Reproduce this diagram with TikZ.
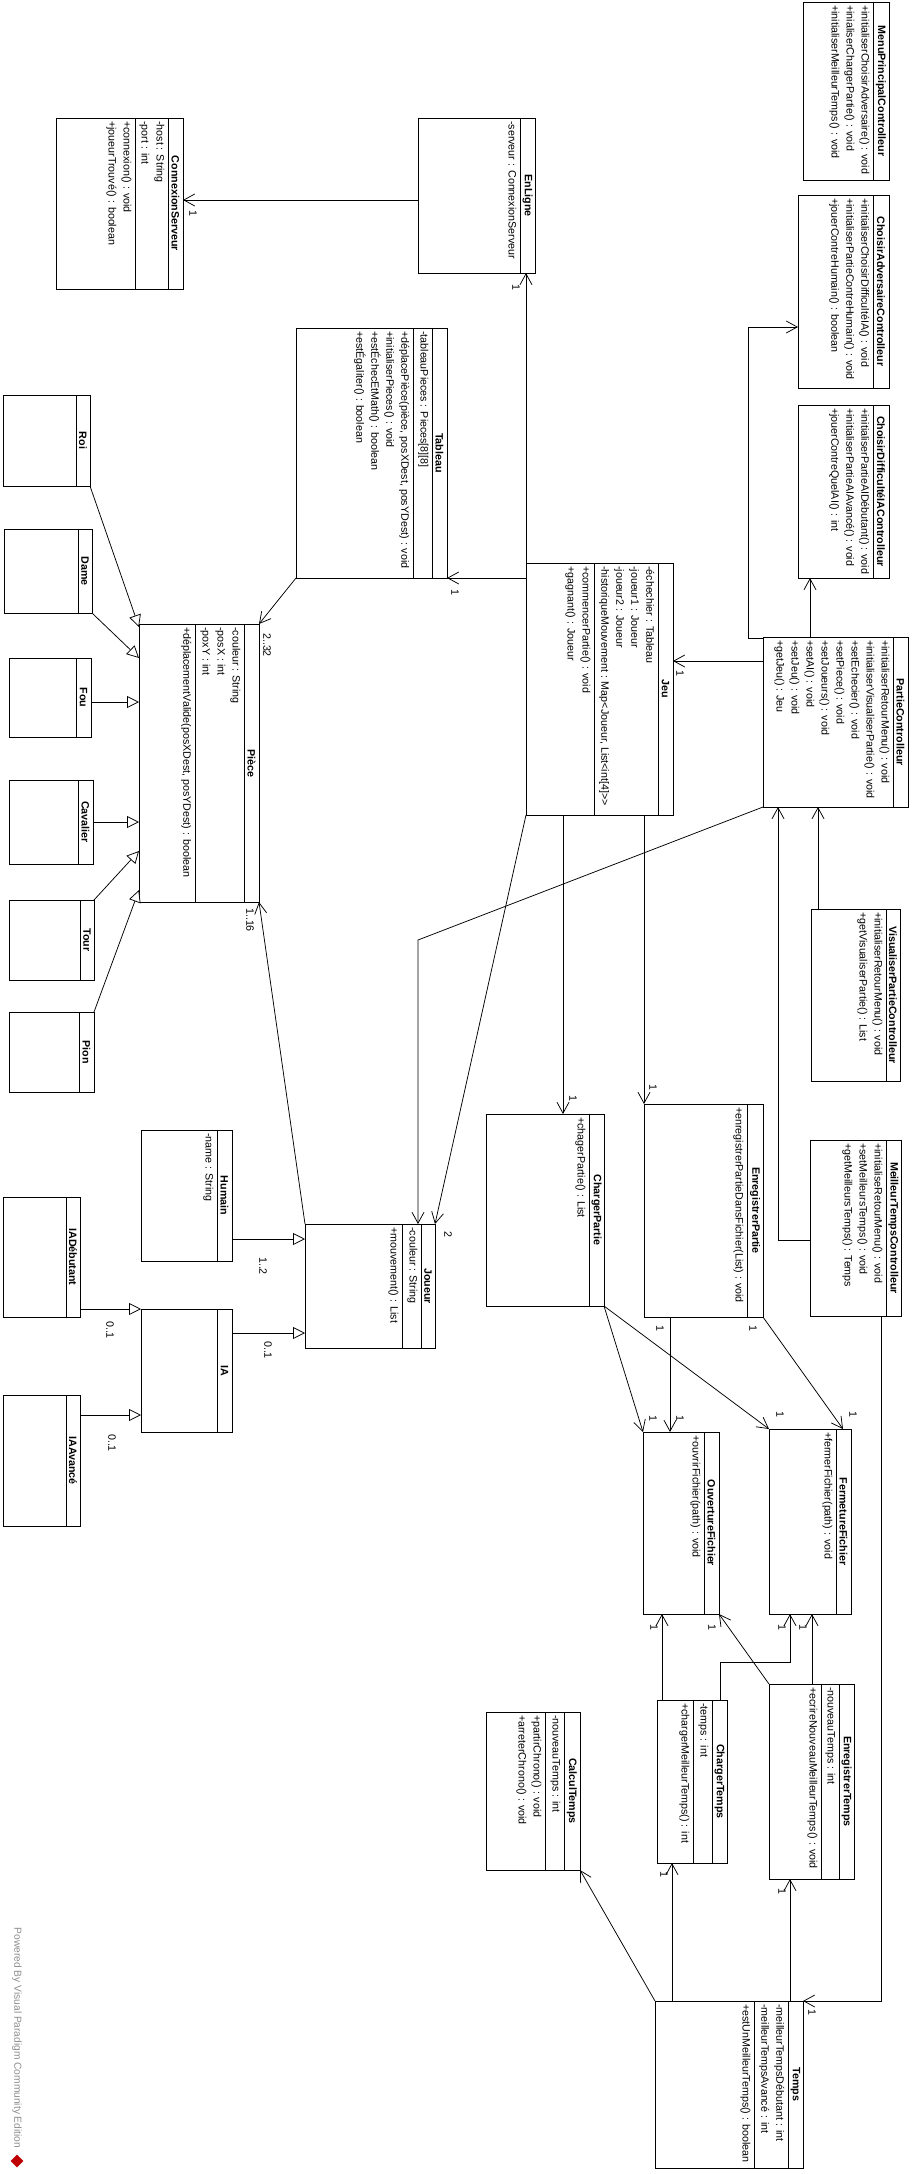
\documentclass[tikz,border=0pt]{standalone}
\usepackage{fontspec}
\newfontfamily\vpfont{Liberation Sans}
\usetikzlibrary{arrows.meta, calc, fit}

% class box: name, corner, corner, header line x, attribute line x, title, attributes, operations
\newcommand\umlclass[8]{%
  \node[cls, fit={(#2) (#3)}] (#1) {};
  \coordinate (#1-h) at (#4,0);
  \coordinate (#1-a) at (#5,0);
  \draw[compart] (#1.north -| #1-h) -- (#1.south -| #1-h);
  \draw[compart] (#1.north -| #1-a) -- (#1.south -| #1-a);
  \node[clsname] (#1-t) at ($(#1.east)!.5!(#1.east -| #1-h)$) {#6};
  \node[member] (#1-m1) at (#1.north -| #1-h) {#7};
  \node[member] (#1-m2) at (#1.north -| #1-a) {#8};
}

\begin{document}
\begin{tikzpicture}[
    x = 1pt, y = -1pt,
cls/.style = {draw, line width=1pt, inner sep=0pt, outer sep=0pt},
compart/.style = {line width=1pt},
clsname/.style = {rotate=-90, inner sep=0pt, font=\vpfont\bfseries\fontsize{10.7}{15}\selectfont},
member/.style = {rotate=-90, anchor=north west, align=left, inner xsep=3pt, inner ysep=3.5pt,
                 font=\vpfont\fontsize{10.7}{15}\selectfont},
mult/.style = {rotate=-90, inner sep=0pt, font=\vpfont\fontsize{10.7}{13}\selectfont},
assoc/.style = {line width=.75pt, -{Straight Barb[length=11pt, width=12pt]}},
gen/.style = {line width=.75pt, -{Triangle[open, length=12pt, width=12pt, fill=white]}},
credit/.style = {rotate=-90, inner sep=0pt, text=black!45, font=\vpfont\fontsize{10.2}{12}\selectfont},
vplogo/.style = {fill=red!75!black, rotate=45, minimum size=9pt, inner sep=0pt},
                    ]
\useasboundingbox (0,0) rectangle (911,2174);
%
\umlclass{menu}{803,2}{889,180}{873}{873}{MenuPrincipalControlleur}{}{+initialiserChoisirAdversaire() : void\\+inialiserChargerPartie() : void\\+initialiserMeilleurTemps() : void}
\umlclass{choixAdv}{798,195}{889,388}{873}{873}{ChoisirAdversaireControlleur}{}{+initialiserChoisirDifficultéIA() : void\\+initialiserPartieContreHumain() : void\\+jouerContreHumain() : boolean}
\umlclass{choixDiff}{798,405}{889,578}{873}{873}{ChoisirDifficultéIAControlleur}{}{+initialiserPartieAIDébutant() : void\\+initialiserPartieAIAvancé() : void\\+jouerContreQuelAI() : int}
\umlclass{partieCtrl}{763,637}{908,807}{893}{893}{PartieControlleur}{}{+initialiserRetourMenu() : void\\+initialiserVisualiserPartie() : void\\+setEchecier() : void\\+setPiece() : void\\+setJoueurs() : void\\+setAI() : void\\+setJeu() : void\\+getJeu() : Jeu}
\umlclass{visuCtrl}{811,909}{900,1081}{886}{886}{VisualiserPartieControlleur}{}{+initialiserRetourMenu() : void\\+getVisualiserPartie() : List}
\umlclass{meilleurCtrl}{810,1140}{901,1316}{886}{886}{MeilleurTempsControlleur}{}{+initialiseRetourMenu() : void\\+setMeilleursTemps() : void\\+getMeilleursTemps() : Temps}
%
\umlclass{jeu}{526,563}{673,815}{658}{594}{Jeu}{-échechier : Tableau\\-joueur1 : Joueur\\-joueur2 : Joueur\\-historiqueMouvement : Map<Joueur, List<int[4]>>}{+commencerPartie() : void\\+gagnant() : Joueur}
\umlclass{tableau}{296,328}{447,578}{432}{413}{Tableau}{-tableauPieces : Pieces[8][8]}{+déplacePièce(pièce, posXDest, posYDest) : void\\+initialiserPieces() : void\\+estÉchecEtMath() : boolean\\+estÉgaliter() : boolean}
\umlclass{enLigne}{418,118}{535,273}{520}{520}{EnLigne}{-serveur : ConnexionServeur}{}
\umlclass{connexion}{56,118}{183,289}{168}{135}{ConnexionServeur}{-host : String\\-port : int}{+connexion() : void\\+joueurTrouvé() : boolean}
\umlclass{piece}{139,624}{259,902}{244}{195}{Pièce}{-couleur : String\\-posX : int\\-poxY : int}{+déplacementValide(posXDest, posYDest) : boolean}
\umlclass{roi}{3,395}{90,486}{76}{76}{Roi}{}{}
\umlclass{dame}{4,529}{92,613}{78}{78}{Dame}{}{}
\umlclass{fou}{9,658}{91,737}{76}{76}{Fou}{}{}
\umlclass{cavalier}{9,780}{93,864}{78}{78}{Cavalier}{}{}
\umlclass{tour}{9,900}{94,980}{80}{80}{Tour}{}{}
\umlclass{pion}{9,1012}{94,1092}{79}{79}{Pion}{}{}
\umlclass{humain}{141,1130}{232,1261}{217}{217}{Humain}{-name : String}{}
\umlclass{joueur}{305,1224}{435,1348}{421}{402}{Joueur}{-couleur : String}{+mouvement() : List}
\umlclass{ia}{141,1309}{232,1432}{217}{217}{IA}{}{}
\umlclass{iaDeb}{3,1197}{80,1317}{66}{66}{IADébutant}{}{}
\umlclass{iaAv}{3,1395}{80,1526}{66}{66}{IAAvancé}{}{}
%
\umlclass{chargerPartie}{486,1114}{604,1306}{589}{589}{ChargerPartie}{}{+chagerPartie() : List}
\umlclass{enregPartie}{644,1104}{763,1317}{747}{747}{EnregistrerPartie}{}{+enregistrerPartieDansFichier(List) : void}
\umlclass{ouverture}{643,1432}{719,1614}{704}{704}{OuvertureFichier}{}{+ouvrirFichier(path) : void}
\umlclass{fermeture}{769,1429}{851,1614}{836}{836}{FermetureFichier}{}{+fermerFichier(path) : void}
\umlclass{chargerTemps}{657,1700}{727,1863}{712}{693}{ChargerTemps}{-temps : int}{+chargerMeilleurTemps() : int}
\umlclass{enregTemps}{769,1684}{854,1879}{839}{821}{EnregistrerTemps}{-nouveauTemps : int}{+ecrireNouveauMeilleurTemps() : void}
\umlclass{calculTemps}{486,1712}{580,1870}{564}{545}{CalculTemps}{-nouveauTemps : int}{+partirChrono() : void\\+arreterChrono() : void}
\umlclass{temps}{655,2001}{803,2168}{788}{754}{Temps}{-meilleurTempsDébutant : int\\-meilleurTempsAvancé : int}{+estUnMeilleurTemps() : boolean}
%
\path[assoc] ([shift={(0,4.5)}]enLigne.west) edge ([shift={(0,-3.5)}]connexion.east)
             (jeu.north west)                 edge ([shift={(108,0)}]enLigne.south west)
             ([shift={(0,24)}]partieCtrl.north west) edge ([shift={(0,98)}]jeu.north east)
             ([shift={(47,0)}]partieCtrl.north west) edge ([shift={(12,0)}]choixDiff.south west)
             ([shift={(7,0)}]visuCtrl.north west)    edge ([shift={(55,0)}]partieCtrl.south west)
             (jeu.south west)                 edge (joueur.north east)
             ([shift={(0,15)}]jeu.north west) edge (tableau.south east)
             ([shift={(37,0)}]jeu.south west) edge ([shift={(77,0)}]chargerPartie.north west)
             ([shift={(118,0)}]jeu.south west) edge (enregPartie.north west)
             (tableau.south west)             edge (piece.north east)
             (joueur.north west)              edge (piece.south east)
%
             (chargerPartie.south east)       edge (ouverture.north west)
             ([shift={(26,0)}]enregPartie.south west) edge ([shift={(27,0)}]ouverture.north west)
             (chargerPartie.south east)       edge (fermeture.north west)
             (enregPartie.south east)         edge ([shift={(-8,0)}]fermeture.north east)
             ([shift={(5,0)}]chargerTemps.north west) edge ([shift={(19,0)}]ouverture.south west)
             (enregTemps.north west)          edge (ouverture.south east)
             ([shift={(43,0)}]enregTemps.north west) edge ([shift={(43,0)}]fermeture.south west)
             (temps.north west)               edge (calculTemps.south east)
             ([shift={(17,0)}]temps.north west) edge ([shift={(15,0)}]chargerTemps.south west)
             ([shift={(135,0)}]temps.north west) edge ([shift={(21,0)}]enregTemps.south west);
%
\draw[assoc] ([shift={(0,1)}]partieCtrl.north west) -- ([shift={(-15,1)}]partieCtrl.north west)
             |- ([shift={(0,35.5)}]choixAdv.west);
\draw[assoc] ([shift={(0,12)}]meilleurCtrl.west) -| ([shift={(15,0)}]partieCtrl.south west);
\draw[assoc] (partieCtrl.south west) -- ([shift={(-17,-284)}]joueur.north east)
             -- ([shift={(-17,0)}]joueur.north east);
\draw[assoc] ([shift={(63,0)}]chargerTemps.north west) -- ([shift={(63,-38)}]chargerTemps.north west)
             -| ([shift={(21,0)}]fermeture.south west);
\draw[assoc] ([shift={(71,0)}]meilleurCtrl.south west) |- (temps.north east);
%
\path[gen] (roi.south east)   edge ([shift={(0,3)}]piece.north west)
           (dame.south east)  edge ([shift={(0,34)}]piece.north west)
           ([shift={(0,4.5)}]fou.east) edge ([shift={(0,78)}]piece.north west)
           (cavalier.east)    edge ([shift={(0,198)}]piece.north west)
           (tour.north east)  edge ([shift={(0,227)}]piece.north west)
           (pion.north east)  edge ([shift={(0,-12)}]piece.south west)
           ([shift={(0,109)}]humain.north east) edge ([shift={(0,15)}]joueur.north west)
           ([shift={(0,24)}]ia.north east)      edge ([shift={(0,-15)}]joueur.south west)
           ([shift={(0,-8)}]iaDeb.south east)   edge (ia.north west)
           ([shift={(0,20)}]iaAv.north east)    edge ([shift={(0,-17)}]ia.south west);
%
\foreach \mx/\my/\mt [count=\i] in {193/213/1, 516/287/1, 680/673/1, 455/592/1, 267/645/2..32,
    250/920/1..16, 448/1234/2, 263/1266/1..2, 268/1350/0..1, 110/1330/0..1, 112/1443/0..1,
    573/1098/1, 653/1087/1, 653/1418/1, 680/1418/1, 780/1414/1, 853/1414/1, 660/1328/1,
    753/1328/1, 654/1627/1, 712/1627/1, 782/1627/1, 803/1627/1, 664/1874/1, 782/1891/1,
    812/2012/1}
  \node[mult] (m\i) at (\mx,\my) {\mt};
%
\node[credit] (poweredBy) at (17,2038) {Powered By Visual Paradigm Community Edition};
\node[vplogo] (vpLogo) at (17,2161) {};
\end{tikzpicture}
\end{document}
